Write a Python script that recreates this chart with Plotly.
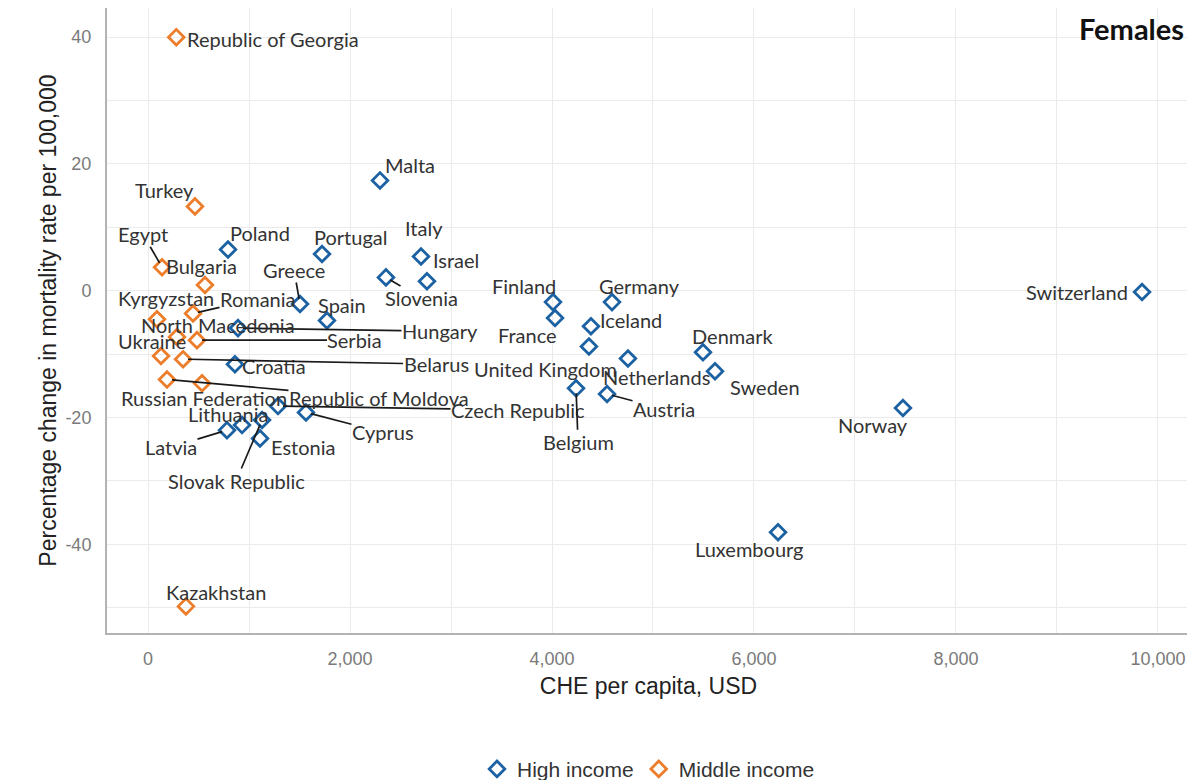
import plotly.graph_objects as go

# ---- Data ----
high_countries = ["Malta", "Poland", "Portugal", "Italy", "Israel", "Greece", "Slovenia", "Spain",
                  "Hungary", "Croatia", "Czech Republic", "Cyprus", "Lithuania", "Latvia", "Estonia",
                  "Slovak Republic", "Finland", "France", "Germany", "Iceland", "United Kingdom",
                  "Netherlands", "Belgium", "Austria", "Denmark", "Sweden", "Norway", "Luxembourg",
                  "Switzerland"]
high_che = [2297, 792, 1723, 2703, 2762, 1505, 2356, 1772,
            891, 861, 1287, 1564, 931, 782, 1109,
            1129, 4010, 4030, 4594, 4386, 4366,
            4752, 4238, 4545, 5495, 5614, 7475, 6238,
            9842]
high_change = [17.4, 6.5, 5.8, 5.4, 1.5, -2.1, 2.1, -4.7,
               -5.9, -11.6, -18.2, -19.2, -21.2, -22.0, -23.3,
               -20.4, -1.8, -4.3, -1.8, -5.6, -8.8,
               -10.7, -15.4, -16.3, -9.7, -12.7, -18.5, -38.1,
               -0.2]

mid_countries = ["Republic of Georgia", "Turkey", "Egypt", "Bulgaria", "Kyrgyzstan", "Romania",
                 "North Macedonia", "Serbia", "Ukraine", "Belarus", "Republic of Moldova",
                 "Russian Federation", "Kazakhstan"]
mid_che = [280, 465, 139, 564, 89, 446, 287, 485, 129, 347, 188, 535, 376]
mid_change = [40.0, 13.3, 3.7, 0.9, -4.5, -3.6, -7.3, -7.8, -10.3, -10.8, -14.0, -14.6, -49.8]

x_ticks = [0, 2000, 4000, 6000, 8000, 10000]
x_tick_text = ["0", "2,000", "4,000", "6,000", "8,000", "10,000"]
y_ticks = [-40, -20, 0, 20, 40]
y_tick_text = ["-40", "-20", "0", "20", "40"]

# ---- Label placement (pixel offsets from point, whether a leader line is drawn) ----
label_pos = {
    "Republic of Georgia": (97, 2, False), "Turkey": (-30, -16, False), "Egypt": (-19, -33, True),
    "Bulgaria": (-3, -19, False), "Kyrgyzstan": (9, -21, False), "Romania": (65, -15, True),
    "North Macedonia": (41, -12, False), "Serbia": (158, 0, True), "Ukraine": (-9, -15, False),
    "Belarus": (253, 5, True), "Republic of Moldova": (212, 19, True),
    "Russian Federation": (2, 15, False), "Kazakhstan": (30, -14, False),
    "Malta": (30, -15, False), "Poland": (32, -17, False), "Portugal": (28, -17, False),
    "Italy": (3, -28, False), "Israel": (29, -21, False), "Greece": (-6, -34, True),
    "Slovenia": (36, 21, True), "Spain": (15, -16, True), "Hungary": (202, 3, True),
    "Croatia": (39, 2, False), "Czech Republic": (240, 4, True), "Cyprus": (77, 20, True),
    "Lithuania": (-14, -11, False), "Latvia": (-56, 17, True), "Estonia": (43, 9, False),
    "Slovak Republic": (-26, 61, True), "Finland": (-29, -16, False), "France": (-28, 17, False),
    "Germany": (28, -16, False), "Iceland": (40, -6, False), "United Kingdom": (-43, 23, False),
    "Netherlands": (29, 18, False), "Belgium": (2, 54, True), "Austria": (57, 15, True),
    "Denmark": (30, -16, False), "Sweden": (50, 16, False), "Norway": (-30, 17, False),
    "Luxembourg": (-29, 17, False), "Switzerland": (-65, 0, False),
}

BLUE = "#1c62a3"
ORANGE = "#ec7d2a"
LABEL_FONT = dict(family="Lato, Open Sans, sans-serif", size=20, color="#333333")

fig = go.Figure()
fig.add_trace(go.Scatter(
    x=high_che, y=high_change, mode="markers", name="High income",
    marker=dict(symbol="diamond-open", size=12, color=BLUE, line=dict(width=2.8, color=BLUE)),
    hoverinfo="skip"))
fig.add_trace(go.Scatter(
    x=mid_che, y=mid_change, mode="markers", name="Middle income",
    marker=dict(symbol="diamond-open", size=12, color=ORANGE, line=dict(width=2.8, color=ORANGE)),
    hoverinfo="skip"))

annotations = []
for names, xs, ys in [(high_countries, high_che, high_change), (mid_countries, mid_che, mid_change)]:
    for n, xv, yv in zip(names, xs, ys):
        ax, ay, line = label_pos[n]
        annotations.append(dict(
            x=xv, y=yv, xref="x", yref="y", text=n, showarrow=True, ax=ax, ay=ay,
            arrowhead=0, arrowwidth=1.7, standoff=5,
            arrowcolor="#1a1a1a" if line else "rgba(0,0,0,0)",
            font=LABEL_FONT, borderpad=0))

annotations.append(dict(
    x=0.9965, y=0.967, xref="paper", yref="paper", text="<b>Females</b>", showarrow=False,
    xanchor="right", yanchor="middle",
    font=dict(family="Lato, Open Sans, sans-serif", size=29, color="#111111")))

grid_col = "#ebebeb"
# page has an 8px body margin, so the figure is sized 8px smaller each way
fig.update_layout(
    width=1187, height=772,
    margin=dict(l=99, r=5, t=0, b=147, autoexpand=False),
    plot_bgcolor="white", paper_bgcolor="white",
    showlegend=True,
    legend=dict(orientation="h", x=0.5, xanchor="center", y=-0.218, yanchor="middle",
                font=dict(family="Liberation Sans, Arial, sans-serif", size=21, color="#333333"),
                itemwidth=30, tracegroupgap=0),
    annotations=annotations,
    xaxis=dict(
        range=[-406, 10317], tickvals=x_ticks, ticktext=x_tick_text, automargin=False,
        showgrid=True, gridcolor=grid_col, gridwidth=1.3,
        minor=dict(dtick=1000, tick0=0, showgrid=True, gridcolor=grid_col, gridwidth=1),
        zeroline=False, showline=True, linecolor="#b3b3b3", linewidth=2,
        ticks="", ticklabelstandoff=8,
        tickfont=dict(family="Liberation Sans, Arial, sans-serif", size=18, color="#7a7a7a"),
        title=dict(text="CHE per capita, USD", standoff=10,
                   font=dict(family="Liberation Sans, Arial, sans-serif", size=23, color="#222222"))),
    yaxis=dict(
        range=[-54.0, 44.6], tickvals=y_ticks, ticktext=y_tick_text, automargin=False,
        showgrid=True, gridcolor=grid_col, gridwidth=1.3,
        minor=dict(dtick=10, tick0=0, showgrid=True, gridcolor=grid_col, gridwidth=1),
        zeroline=False, showline=True, linecolor="#b3b3b3", linewidth=2,
        ticks="", ticklabelstandoff=10,
        tickfont=dict(family="Liberation Sans, Arial, sans-serif", size=18, color="#7a7a7a"),
        title=dict(text="Percentage change in mortality rate per 100,000", standoff=2,
                   font=dict(family="Liberation Sans, Arial, sans-serif", size=23, color="#222222"))),
)

fig.write_html("out.html")
